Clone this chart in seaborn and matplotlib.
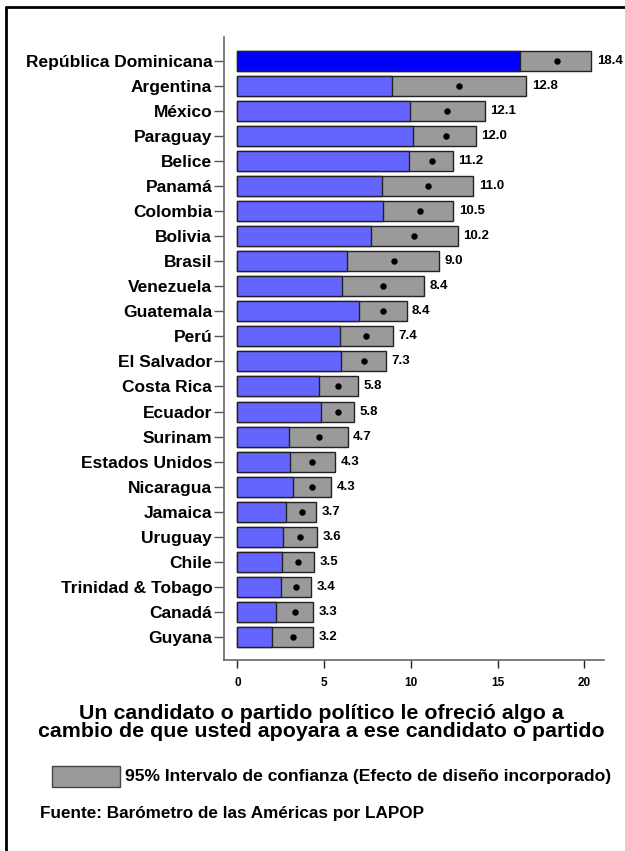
import matplotlib
matplotlib.use("Agg")
import matplotlib.pyplot as plt
from matplotlib.patches import Rectangle
from matplotlib.lines import Line2D
import seaborn as sns
import pandas as pd

# Values (percent), sorted as shown.
countries = ["República Dominicana", "Argentina", "México", "Paraguay", "Belice", "Panamá",
             "Colombia", "Bolivia", "Brasil", "Venezuela", "Guatemala", "Perú", "El Salvador",
             "Costa Rica", "Ecuador", "Surinam", "Estados Unidos", "Nicaragua", "Jamaica",
             "Uruguay", "Chile", "Trinidad & Tobago", "Canadá", "Guyana"]
means = [18.4, 12.8, 12.1, 12.0, 11.2, 11.0, 10.5, 10.2, 9.0, 8.4, 8.4, 7.4, 7.3,
         5.8, 5.8, 4.7, 4.3, 4.3, 3.7, 3.6, 3.5, 3.4, 3.3, 3.2]
ci_low = [16.3, 8.9, 9.95, 10.15, 9.9, 8.35, 8.4, 7.7, 6.3, 6.05, 7.0, 5.9, 5.95,
          4.7, 4.8, 2.95, 3.05, 3.2, 2.8, 2.65, 2.6, 2.5, 2.25, 2.0]
ci_high = [20.4, 16.65, 14.25, 13.75, 12.4, 13.6, 12.45, 12.7, 11.6, 10.75, 9.75, 8.95, 8.55,
           6.95, 6.75, 6.35, 5.65, 5.4, 4.55, 4.6, 4.4, 4.25, 4.35, 4.35]

df = pd.DataFrame({"pais": countries, "media": means, "bajo": ci_low, "alto": ci_high})

blue = "#6464ff"
blue_hi = "#0000ff"
gray = "#9a9a9a"
bar_colors = [blue_hi] + [blue] * (len(countries) - 1)

sns.set_style("white")
plt.rcParams["font.family"] = ["Liberation Sans", "DejaVu Sans"]
plt.rcParams["font.weight"] = "bold"
plt.rcParams["text.color"] = "black"
plt.rcParams["xtick.color"] = "black"
plt.rcParams["ytick.color"] = "black"

fig = plt.figure(figsize=(6.25, 8.51), dpi=100)
ax = fig.add_axes([0.3584, 0.2244, 0.608, 0.7321])

# gray = full confidence interval, blue covers 0..lower bound
sns.barplot(data=df, x="alto", y="pais", color=gray, saturation=1, edgecolor="#222222",
            linewidth=1.0, width=0.8, ax=ax, orient="h")
sns.barplot(data=df, x="bajo", y="pais", hue="pais", palette=bar_colors, legend=False,
            saturation=1, edgecolor="#222222", linewidth=1.0, width=0.8, ax=ax, orient="h")
sns.pointplot(data=df, x="media", y="pais", color="black", linestyle="none",
              markersize=2.6, errorbar=None, ax=ax, orient="h")

for i, row in df.iterrows():
    ax.annotate(f"{row['media']:.1f}", (row["alto"], i), xytext=(4, 0),
                textcoords="offset points", va="center", ha="left",
                fontsize=9.5, fontweight="bold", color="black")

ax.set_xlim(-0.77, 21.13)
ax.set_ylim(23.92, -0.95)
ax.set_xticks([0, 5, 10, 15, 20])
ax.set_xlabel("")
ax.set_ylabel("")
for s in ["top", "right"]:
    ax.spines[s].set_visible(False)
for s in ["left", "bottom"]:
    ax.spines[s].set_color("#666666")
    ax.spines[s].set_linewidth(1.2)
ax.tick_params(axis="y", left=True, length=7, width=1, color="#555555", pad=1.5,
               labelsize=12.5)
ax.tick_params(axis="x", bottom=True, length=6, width=1, color="#222222", pad=6,
               labelsize=8.5)
for lab in ax.get_yticklabels() + ax.get_xticklabels():
    lab.set_fontweight("bold")

fig.text(0.5136, 0.151, "Un candidato o partido político le ofreció algo a\n"
         "cambio de que usted apoyara a ese candidato o partido",
         ha="center", va="center", fontsize=15.4, fontweight="bold", linespacing=0.95)

fig.patches.append(Rectangle((0.0832, 0.0752), 0.1088, 0.0247, transform=fig.transFigure,
                             facecolor=gray, edgecolor="#444444", linewidth=1.0))
fig.text(0.2, 0.087, "95% Intervalo de confianza (Efecto de diseño incorporado)",
         ha="left", va="center", fontsize=12.6, fontweight="bold")
fig.text(0.064, 0.0435, "Fuente: Barómetro de las Américas por LAPOP",
         ha="left", va="center", fontsize=12.3, fontweight="bold")

# outer frame (left and top edges visible)
fig.add_artist(Line2D([0.0096, 1.0], [0.9918, 0.9918], color="black", linewidth=2))
fig.add_artist(Line2D([0.0096, 0.0096], [0.0, 0.9918], color="black", linewidth=2))

fig.savefig("out.png", dpi=100)
